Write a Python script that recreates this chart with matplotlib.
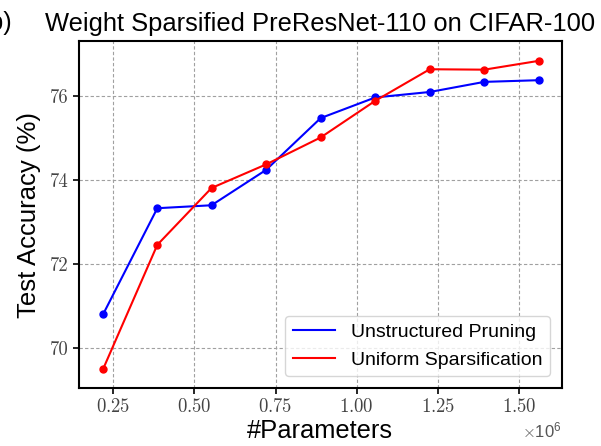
import matplotlib
matplotlib.use("Agg")
import matplotlib.pyplot as plt
from matplotlib.ticker import ScalarFormatter

plt.rcParams['mathtext.fontset'] = 'cm'
plt.rcParams['font.family'] = ['Liberation Sans', 'DejaVu Sans']

# data
params = [0.219e6, 0.386e6, 0.553e6, 0.721e6, 0.889e6, 1.057e6, 1.225e6, 1.393e6, 1.561e6]
acc_unstructured = [70.81, 73.33, 73.40, 74.24, 75.47, 75.96, 76.09, 76.33, 76.37]
acc_uniform = [69.51, 72.46, 73.81, 74.37, 75.01, 75.88, 76.63, 76.62, 76.83]
xticks = [0.25e6, 0.50e6, 0.75e6, 1.00e6, 1.25e6, 1.50e6]
yticks = [70, 72, 74, 76]

fig = plt.figure(figsize=(6.01, 4.46), dpi=100)
ax = fig.add_axes([0.131, 0.130, 0.804, 0.778])

ax.plot(params, acc_unstructured, color='blue', lw=1.5, marker='o', ms=5,
        label='Unstructured Pruning')
ax.plot(params, acc_uniform, color='red', lw=1.5, marker='o', ms=5,
        label='Uniform Sparsification')

ax.set_xlim(0.144e6, 1.632e6)
ax.set_ylim(69.06, 77.30)
ax.set_xticks(xticks)
ax.set_yticks(yticks)

fmt = ScalarFormatter(useMathText=True)
fmt.set_powerlimits((0, 0))
ax.xaxis.set_major_formatter(fmt)

ax.grid(True, ls=(0, (3, 2)), color='#a0a0a0', lw=0.8)
ax.tick_params(labelsize=13.5, labelcolor='#444444', length=4, width=1.2,
               labelfontfamily='cmr10')
ax.xaxis.get_offset_text().set_fontsize(12)
ax.xaxis.get_offset_text().set_color('#555555')
for s in ax.spines.values():
    s.set_linewidth(1.5)

ax.set_title('Weight Sparsified PreResNet-110 on CIFAR-100', fontsize=18.4, pad=7)
ax.set_xlabel('#Parameters', fontsize=18.4, labelpad=2)
ax.set_ylabel('Test Accuracy (%)', fontsize=18.5, labelpad=6)
leg = ax.legend(loc='lower right', fontsize=14, handlelength=2.2, framealpha=0.8,
                borderaxespad=0.6)
for h in leg.get_lines():
    h.set_marker('None')

fig.text(12 / 601, 0.948, '(b)', ha='right', va='center', fontsize=18)

fig.savefig('out.png', dpi=100)
